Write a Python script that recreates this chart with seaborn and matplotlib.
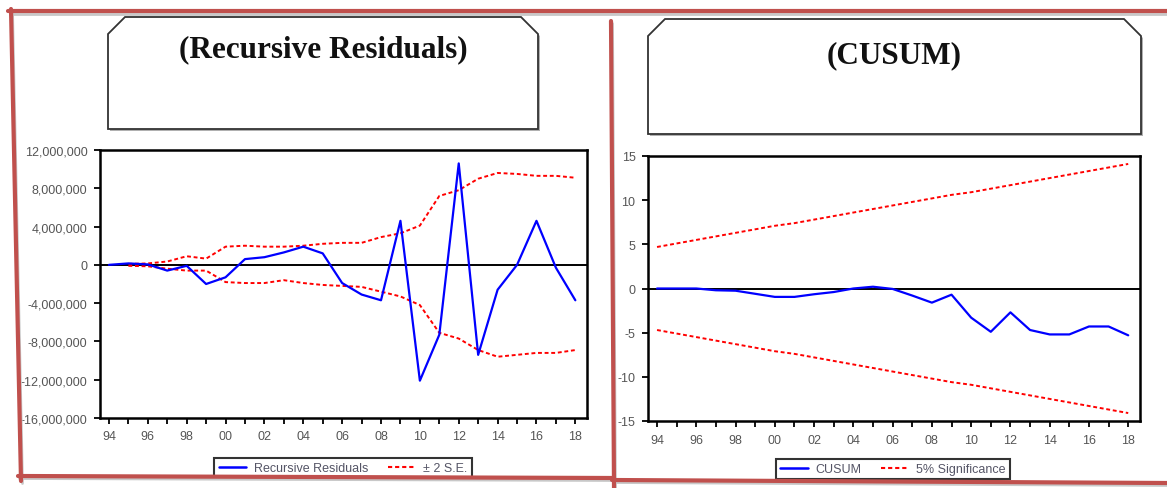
import numpy as np
import pandas as pd
import matplotlib
matplotlib.use("Agg")
import matplotlib.pyplot as plt
from matplotlib.lines import Line2D
from matplotlib.patches import Polygon
from matplotlib.ticker import FuncFormatter, MultipleLocator
import seaborn as sns

W, H = 1167, 489

# data
years = list(range(1994, 2019))
resid = [0.0, 0.15, 0.05, -0.6, -0.1, -2.0, -1.3, 0.6, 0.8, 1.3, 1.9, 1.2, -1.9,
         -3.1, -3.7, 4.6, -12.1, -7.3, 10.6, -9.4, -2.6, 0.0, 4.6, -0.3, -3.7]
resid = [v * 1e6 for v in resid]

se_years = years[1:]
se_upper = [0.1, 0.15, 0.35, 0.9, 0.65, 1.9, 2.0, 1.9, 1.9, 2.0, 2.2, 2.3, 2.3,
            2.9, 3.3, 4.1, 7.2, 7.8, 9.0, 9.6, 9.5, 9.3, 9.3, 9.1]
se_lower = [-0.1, -0.15, -0.4, -0.6, -0.6, -1.8, -1.9, -1.9, -1.6, -1.9, -2.1, -2.2, -2.3,
            -2.8, -3.3, -4.2, -7.1, -7.7, -8.9, -9.6, -9.4, -9.2, -9.2, -8.9]
se_upper = [v * 1e6 for v in se_upper]
se_lower = [v * 1e6 for v in se_lower]

cusum = [0.0, 0.0, 0.0, -0.2, -0.25, -0.6, -0.95, -0.95, -0.65, -0.4, 0.0, 0.2, -0.05,
         -0.8, -1.6, -0.7, -3.3, -4.9, -2.7, -4.7, -5.2, -5.2, -4.3, -4.3, -5.3]
sig_upper = [4.7, 5.1, 5.5, 5.9, 6.3, 6.7, 7.1, 7.4, 7.8, 8.2, 8.6, 9.0, 9.4,
             9.8, 10.2, 10.6, 10.9, 11.3, 11.7, 12.1, 12.5, 12.9, 13.3, 13.7, 14.1]
sig_lower = [-v for v in sig_upper]

BLUE = "#0000ff"
RED = "#ff0000"
BORDER = "#c0504d"
DASH = (0, (2, 1.4))

sns.set_style("white")
plt.rcParams["font.family"] = ["Liberation Sans", "DejaVu Sans"]

fig = plt.figure(figsize=(W / 100, H / 100), dpi=100)
fig.set_facecolor("white")


def fx(px):
    return px / W


def fy(py):
    return 1 - py / H


ax1 = fig.add_axes([fx(100), fy(419), fx(587) - fx(100), fy(151) - fy(419)])
ax2 = fig.add_axes([fx(648), fy(422), fx(1140) - fx(648), fy(157) - fy(422)])

# Recursive residuals
sns.lineplot(x=years, y=resid, ax=ax1, color=BLUE, lw=1.6, zorder=3)
sns.lineplot(x=se_years, y=se_upper, ax=ax1, color=RED, lw=1.4, linestyle=DASH, zorder=2)
sns.lineplot(x=se_years, y=se_lower, ax=ax1, color=RED, lw=1.4, linestyle=DASH, zorder=2)
ax1.set_ylim(-16e6, 12e6)
ax1.yaxis.set_major_locator(MultipleLocator(4e6))
ax1.yaxis.set_major_formatter(FuncFormatter(lambda v, p: f"{v:,.0f}".replace("\u2212", "-")))

# CUSUM
sns.lineplot(x=years, y=cusum, ax=ax2, color=BLUE, lw=1.6, zorder=3)
sns.lineplot(x=years, y=sig_upper, ax=ax2, color=RED, lw=1.4, linestyle=DASH, zorder=2)
sns.lineplot(x=years, y=sig_lower, ax=ax2, color=RED, lw=1.4, linestyle=DASH, zorder=2)
ax2.set_ylim(-15, 15)
ax2.yaxis.set_major_locator(MultipleLocator(5))
ax2.yaxis.set_major_formatter(FuncFormatter(lambda v, p: f"{v:.0f}"))

for ax in (ax1, ax2):
    ax.axhline(0, color="black", lw=1.4, zorder=1)
    ax.set_xlim(1993.54, 2018.6)
    ax.xaxis.set_major_locator(MultipleLocator(2))
    ax.xaxis.set_minor_locator(MultipleLocator(1))
    ax.xaxis.set_major_formatter(FuncFormatter(lambda v, p: f"{int(round(v)) % 100:02d}"))
    ax.tick_params(which="both", direction="out", length=4.5, width=1.3, color="black",
                   bottom=True, left=True)
    ax.tick_params(which="major", labelsize=9, labelcolor="#555555", pad=4.5)
    for s in ax.spines.values():
        s.set_linewidth(1.8)
        s.set_color("black")
    ax.set_xlabel("")
    ax.set_ylabel("")
    ax.set_facecolor("white")

# legends
def make_legend(labels, cx, cy):
    handles = [Line2D([], [], color=BLUE, lw=1.8),
               Line2D([], [], color=RED, lw=1.5, linestyle=DASH)]
    leg = fig.legend(handles, labels, loc="center", bbox_to_anchor=(fx(cx), fy(cy)),
                     ncol=2, frameon=True, fancybox=False, edgecolor="black",
                     fontsize=9, handlelength=2.2, columnspacing=1.6,
                     borderpad=0.35, handletextpad=0.6, borderaxespad=0)
    leg.get_frame().set_linewidth(1.5)
    for t in leg.get_texts():
        t.set_color("#555566")


make_legend(["Recursive Residuals", "± 2 S.E."], 343, 469)
make_legend(["CUSUM", "5% Significance"], 893, 470)


# title boxes
def title_box(x0, x1, y0, y1, c, text, base_y):
    pts = [(x0, y0 + c), (x0 + c, y0), (x1 - c, y0), (x1, y0 + c), (x1, y1), (x0, y1)]
    shadow = Polygon([(fx(a + 2), fy(b + 2)) for a, b in pts], closed=True,
                     transform=fig.transFigure, facecolor="#b0b0b0", edgecolor="none")
    box = Polygon([(fx(a), fy(b)) for a, b in pts], closed=True,
                  transform=fig.transFigure, facecolor="white", edgecolor="#333333", lw=1.3)
    fig.add_artist(shadow)
    fig.add_artist(box)
    fig.text(fx((x0 + x1) / 2), fy(base_y), text, ha="center", va="baseline",
             fontsize=22.5, fontweight="bold", color="#111111",
             family=["Liberation Serif", "DejaVu Serif"])


title_box(108, 538, 18, 130, 17, "(Recursive Residuals)", 57)
title_box(648, 1141, 20, 135, 17, "(CUSUM)", 63)

# red page borders
borders = [((8, 12), (1167, 12)),
           ((11, 10), (21, 482)),
           ((611, 22), (614, 489)),
           ((18, 477), (612, 479)),
           ((612, 481), (1167, 484))]
for (xa, ya), (xb, yb) in borders:
    fig.add_artist(Line2D([fx(xa + 1.5), fx(xb + 1.5)], [fy(ya + 2.5), fy(yb + 2.5)],
                          color="#c8c8c8", lw=2, zorder=9))
    fig.add_artist(Line2D([fx(xa), fx(xb)], [fy(ya), fy(yb)],
                          color=BORDER, lw=3, zorder=10))

fig.savefig("out.png", dpi=100, facecolor="white")
